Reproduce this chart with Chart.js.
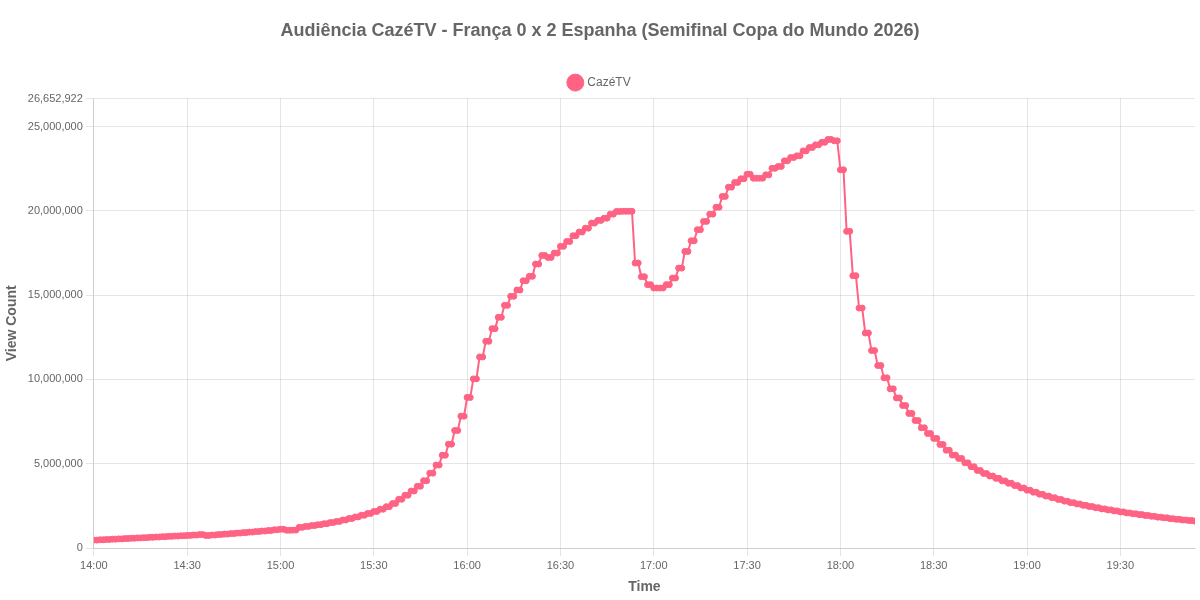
<!DOCTYPE html>
<html>
<head>
<meta charset="utf-8">
<script src="https://cdn.jsdelivr.net/npm/chart.js@4.4.1/dist/chart.umd.min.js"></script>
<style>
html,body{margin:0;padding:0;background:#fff;}
#wrap{width:1200px;height:600px;position:relative;}
</style>
</head>
<body>
<div id="wrap"><canvas id="c"></canvas></div>
<script>
// ---- data ----
const chartTitle = 'Audiência CazéTV - França 0 x 2 Espanha (Semifinal Copa do Mundo 2026)';
const seriesName = 'CazéTV';
const xAxisTitle = 'Time';
const yAxisTitle = 'View Count';

// x axis: minutes after 14:00; each sample is reported on two consecutive minutes
const sampleMinutes = 2;
const lastMinute = 354;          // 19:54
const timeTickStep = 30;
const timeTickLabels = ['14:00','14:30','15:00','15:30','16:00','16:30','17:00','17:30','18:00','18:30','19:00','19:30'];

// y axis top label as shown in the reference
const yAxisMax = 26652922;

// view counts, one per 2-minute sample from 14:00
const viewCounts = [
  468000, 487000, 505000, 524000, 541000, 560000, 578000, 597000, 615000, 634000,
  652000, 671000, 690000, 708000, 727000, 748000, 768000, 795000, 742000, 771000,
  798000, 826000, 855000, 884000, 912000, 943000, 973000, 1004000, 1036000, 1078000,
  1112000, 1052000, 1061000, 1224000, 1281000, 1330000, 1384000, 1441000, 1508000, 1579000,
  1660000, 1749000, 1843000, 1942000, 2050000, 2170000, 2300000, 2450000, 2640000, 2890000,
  3130000, 3380000, 3660000, 3990000, 4440000, 4920000, 5500000, 6160000, 6970000, 7820000,
  8930000, 10030000, 11330000, 12260000, 13010000, 13680000, 14390000, 14930000, 15300000, 15850000,
  16110000, 16840000, 17350000, 17230000, 17490000, 17890000, 18180000, 18520000, 18740000, 18970000,
  19270000, 19430000, 19560000, 19800000, 19960000, 19970000, 19970000, 16900000, 16090000, 15620000,
  15420000, 15420000, 15620000, 16010000, 16600000, 17590000, 18220000, 18880000, 19370000, 19800000,
  20210000, 20850000, 21400000, 21680000, 21900000, 22170000, 21930000, 21930000, 22130000, 22520000,
  22630000, 22960000, 23160000, 23260000, 23550000, 23750000, 23910000, 24060000, 24229929, 24150000,
  22430000, 18780000, 16150000, 14230000, 12750000, 11710000, 10820000, 10090000, 9440000, 8900000,
  8450000, 7980000, 7560000, 7130000, 6790000, 6500000, 6140000, 5800000, 5510000, 5310000,
  5050000, 4820000, 4600000, 4420000, 4270000, 4130000, 3980000, 3840000, 3700000, 3560000,
  3430000, 3310000, 3190000, 3080000, 2980000, 2880000, 2780000, 2690000, 2610000, 2530000,
  2460000, 2390000, 2320000, 2260000, 2200000, 2140000, 2080000, 2030000, 1980000, 1930000,
  1880000, 1830000, 1790000, 1740000, 1700000, 1660000, 1630000, 1590000
];

// ---- build points (each sample value shown on its two minutes) ----
const points = [];
viewCounts.forEach((v, k) => {
  for (let m = 0; m < sampleMinutes; m++) {
    const minute = k * sampleMinutes + m;
    if (minute <= lastMinute) points.push({x: minute, y: v});
  }
});

const pink = 'rgb(255, 99, 132)';
const grey = '#666';

new Chart(document.getElementById('c'), {
  type: 'line',
  data: {
    datasets: [{
      label: seriesName,
      data: points,
      borderColor: pink,
      backgroundColor: pink,
      pointBackgroundColor: pink,
      pointBorderColor: pink,
      borderWidth: 2,
      pointRadius: 3,
      pointBorderWidth: 1,
      tension: 0,
      fill: false
    }]
  },
  options: {
    responsive: true,
    maintainAspectRatio: false,
    animation: false,
    plugins: {
      title: {
        display: true,
        text: chartTitle,
        color: grey,
        font: {size: 18, weight: 'bold'},
        padding: {top: 20, bottom: 25}
      },
      legend: {
        display: true,
        labels: {usePointStyle: true, color: grey, font: {size: 12}}
      },
      tooltip: {enabled: false}
    },
    scales: {
      x: {
        type: 'linear',
        min: 0,
        max: lastMinute,
        afterBuildTicks: (scale) => {
          scale.ticks = scale.ticks.filter(t => t.value % timeTickStep === 0);
        },
        ticks: {
          stepSize: timeTickStep,
          maxRotation: 0,
          autoSkip: false,
          color: grey,
          font: {size: 11},
          callback: (v) => timeTickLabels[Math.round(v / timeTickStep)]
        },
        title: {display: true, text: xAxisTitle, color: grey, font: {size: 14, weight: 'bold'}}
      },
      y: {
        min: 0,
        max: yAxisMax,
        ticks: {
          color: grey,
          font: {size: 11},
          callback: (v) => Number(v).toLocaleString('en-US')
        },
        title: {display: true, text: yAxisTitle, color: grey, font: {size: 14, weight: 'bold'}}
      }
    }
  }
});
</script>
</body>
</html>
